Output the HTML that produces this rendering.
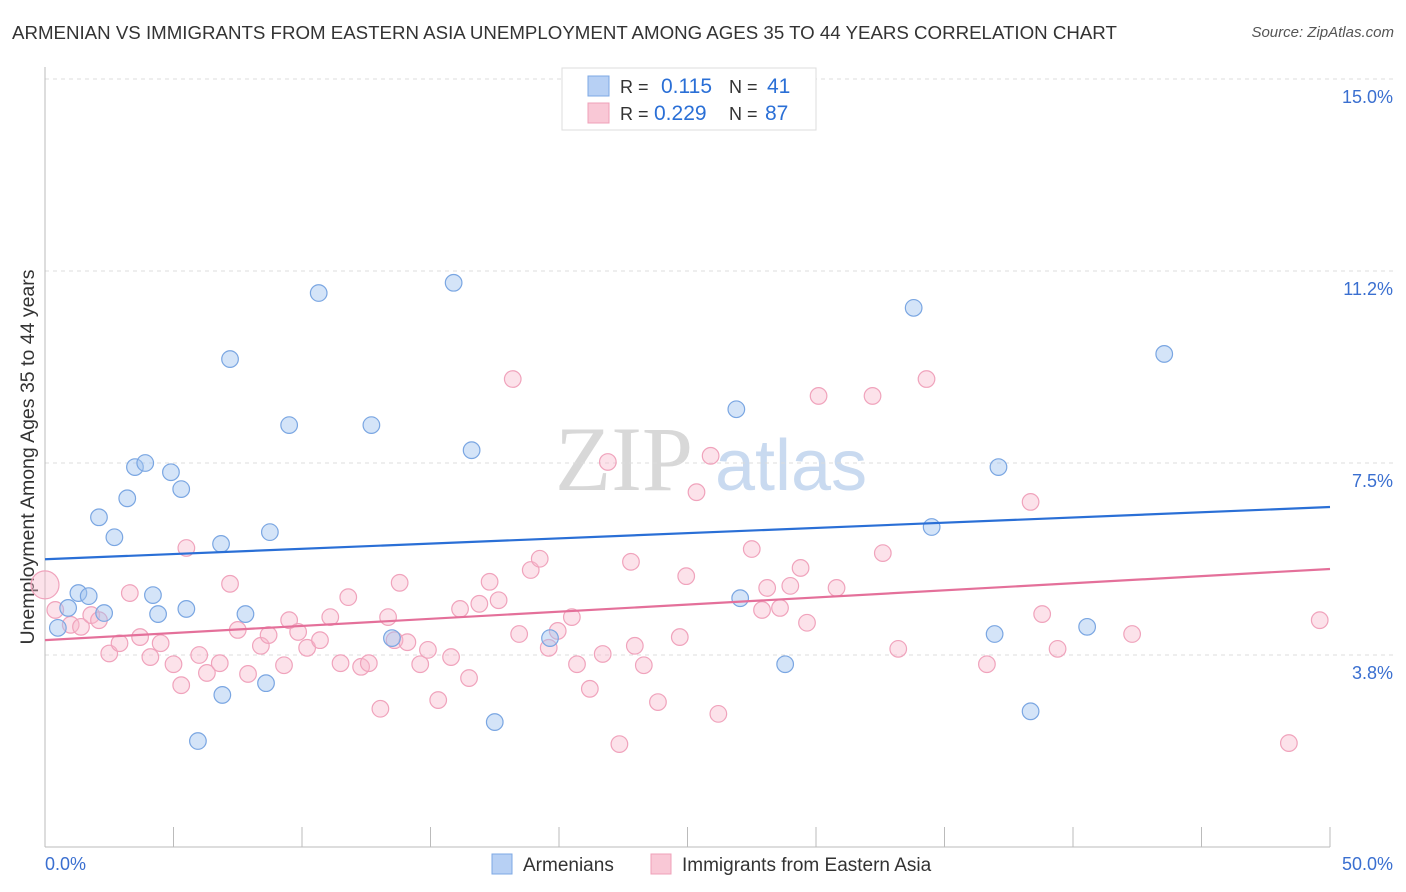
<!DOCTYPE html>
<html><head><meta charset="utf-8">
<style>
body{margin:0;background:#fff;font-family:"Liberation Sans",sans-serif;}
#wrap{position:relative;width:1406px;height:892px;overflow:hidden;}
.title{position:absolute;left:12px;top:22px;font-size:18.7px;color:#333;white-space:nowrap;}
.src{position:absolute;right:12px;top:24px;font-size:15px;color:#555;font-style:italic;}
</style></head><body>
<div id="wrap">
<div class="title">ARMENIAN VS IMMIGRANTS FROM EASTERN ASIA UNEMPLOYMENT AMONG AGES 35 TO 44 YEARS CORRELATION CHART</div>
<div class="src">Source: ZipAtlas.com</div>
<svg id="svg" width="1406" height="892" style="position:absolute;left:0;top:0"></svg>
</div>
<script>
const yTicks=[3.75,7.5,11.25,15];
const yTickLabels=["3.8%","7.5%","11.2%","15.0%"];
const blueX=[0.5,0.9,1.3,1.7,2.1,2.3,2.7,3.2,3.5,3.9,4.2,4.4,4.9,5.3,5.5,5.95,6.85,6.9,7.2,7.8,8.6,8.75,9.5,10.65,12.7,13.5,15.9,16.6,17.5,19.65,26.9,27.05,28.8,33.8,34.5,36.95,37.1,38.35,40.55,43.55];
const blueY=[4.28,4.67,4.96,4.9,6.44,4.57,6.05,6.81,7.42,7.5,4.92,4.55,7.32,6.99,4.65,2.07,5.92,2.97,9.53,4.55,3.2,6.15,8.24,10.82,8.24,4.08,11.02,7.75,2.44,4.08,8.55,4.86,3.57,10.53,6.25,4.16,7.42,2.65,4.3,9.63];
const pinkX=[0,0.4,1,1.4,1.8,2.1,2.5,2.9,3.3,3.7,4.1,4.5,5,5.3,5.5,6,6.3,6.8,7.2,7.5,7.9,8.4,8.7,9.3,9.5,9.85,10.2,10.7,11.1,11.5,11.8,12.3,12.6,13.05,13.35,13.6,13.8,14.1,14.6,14.9,15.3,15.8,16.15,16.5,16.9,17.3,17.65,18.2,18.45,18.9,19.25,19.6,19.95,20.5,20.7,21.2,21.7,21.9,22.35,22.8,22.95,23.3,23.85,24.7,24.95,25.35,25.9,26.2,27.5,27.9,28.1,28.6,29,29.4,29.65,30.1,30.8,32.2,32.6,33.2,34.3,36.65,38.35,38.8,39.4,42.3,48.4,49.6];
const pinkY=[5.12,4.63,4.34,4.3,4.53,4.43,3.78,3.98,4.96,4.1,3.71,3.98,3.57,3.16,5.84,3.75,3.4,3.59,5.14,4.24,3.38,3.93,4.14,3.55,4.43,4.2,3.89,4.04,4.49,3.59,4.88,3.52,3.59,2.7,4.49,4.04,5.16,4.0,3.57,3.85,2.87,3.71,4.65,3.3,4.75,5.18,4.82,9.14,4.16,5.41,5.63,3.89,4.22,4.49,3.57,3.09,3.77,7.52,2.01,5.57,3.93,3.55,2.83,4.1,5.29,6.93,7.64,2.6,5.82,4.63,5.06,4.67,5.1,5.45,4.38,8.81,5.06,8.81,5.74,3.87,9.14,3.57,6.74,4.55,3.87,4.16,2.03,4.43];
const blueLine=[5.62,6.64], pinkLine=[4.04,5.43];
const xMin=0,xMax=50,yMin=0,yMax=15;
const X=v=>45+(v-xMin)/(xMax-xMin)*1285;
const Y=v=>847-(v-yMin)/(yMax-yMin)*768;
const svg=document.getElementById('svg');
const NS='http://www.w3.org/2000/svg';
function mk(t,a,p){const e=document.createElementNS(NS,t);for(const k in a)e.setAttribute(k,a[k]);(p||svg).appendChild(e);return e;}
let wm=mk('text',{x:555,y:490,'font-size':92,'font-family':'Liberation Serif,serif',fill:'#d8d8d8'});wm.textContent='ZIP';


let wm2=mk('text',{x:715,y:490,'font-size':72,'font-family':'Liberation Sans,sans-serif',fill:'#c9daf0'});wm2.textContent='atlas';


yTicks.forEach((t,i)=>{
 const g=mk('line',{x1:45,x2:1393,y1:Y(t),y2:Y(t),stroke:'#dcdcdc','stroke-dasharray':'4,4'});
 
 
 const l=mk('text',{x:1393,y:Y(t)+24,'text-anchor':'end','font-size':18,fill:'#3a6fd0'});l.textContent=yTickLabels[i];
 
 
});
const ax=mk('line',{x1:45,x2:45,y1:67,y2:847,stroke:'#bbb'});


const bx=mk('line',{x1:45,x2:1330,y1:847,y2:847,stroke:'#bbb'});


for(let v=0;v<=50;v+=5){const t=mk('line',{x1:X(v),x2:X(v),y1:827,y2:847,stroke:'#bbb'});
 
 }
[['0.0%',45,'start'],['50.0%',1393,'end']].forEach(a=>{const t=mk('text',{x:a[1],y:870,'text-anchor':a[2],'font-size':18,fill:'#3a6fd0'});t.textContent=a[0];
 
 });
const yt=mk('text',{x:0,y:0,transform:'translate(34,457) rotate(-90)','text-anchor':'middle','font-size':19.5,fill:'#333'});yt.textContent='Unemployment Among Ages 35 to 44 years';


pinkX.forEach((x,i)=>{const c=mk('circle',{cx:X(x),cy:Y(pinkY[i]),r:i==0?14:8.3,fill:'rgba(248,182,202,0.4)',stroke:'#f0a3bc','stroke-width':1.2});
 
 });
blueX.forEach((x,i)=>{const c=mk('circle',{cx:X(x),cy:Y(blueY[i]),r:8.3,fill:'rgba(160,195,240,0.45)',stroke:'#7aa6e2','stroke-width':1.2});
 
 });
const bl=mk('line',{x1:X(0),x2:X(50),y1:Y(blueLine[0]),y2:Y(blueLine[1]),stroke:'#2a6fd6','stroke-width':2.2});


const pl=mk('line',{x1:X(0),x2:X(50),y1:Y(pinkLine[0]),y2:Y(pinkLine[1]),stroke:'#e4709a','stroke-width':2.2});


const lg=mk('g',{});


mk('rect',{x:562,y:68,width:254,height:62,fill:'#fff',stroke:'#ddd'},lg);
mk('rect',{x:588,y:76,width:21,height:20,fill:'#b7d0f4',stroke:'#7ea8e4'},lg);
mk('rect',{x:588,y:103,width:21,height:20,fill:'#f9c8d6',stroke:'#efa0b8'},lg);
[['R = ',620,93,'#333'],['0.115',661,93,'#2a6fd6'],['N = ',729,93,'#333'],['41',767,93,'#2a6fd6'],
 ['R = ',620,120,'#333'],['0.229',654,120,'#2a6fd6'],['N = ',729,120,'#333'],['87',765,120,'#2a6fd6']].forEach(a=>{
 const t=mk('text',{x:a[1],y:a[2],'font-size':a[3]=='#333'?18:21,fill:a[3]},lg);t.textContent=a[0];
 
 });
[['Armenians',492,'#b7d0f4','#7ea8e4'],['Immigrants from Eastern Asia',651,'#f9c8d6','#efa0b8']].forEach(a=>{
 const g=mk('g',{});
 
 
 mk('rect',{x:a[1],y:854,width:20,height:20,fill:a[2],stroke:a[3]},g);
 const t=mk('text',{x:a[1]+31,y:871,'font-size':19,fill:'#333'},g);t.textContent=a[0];
});
</script>
</body></html>
